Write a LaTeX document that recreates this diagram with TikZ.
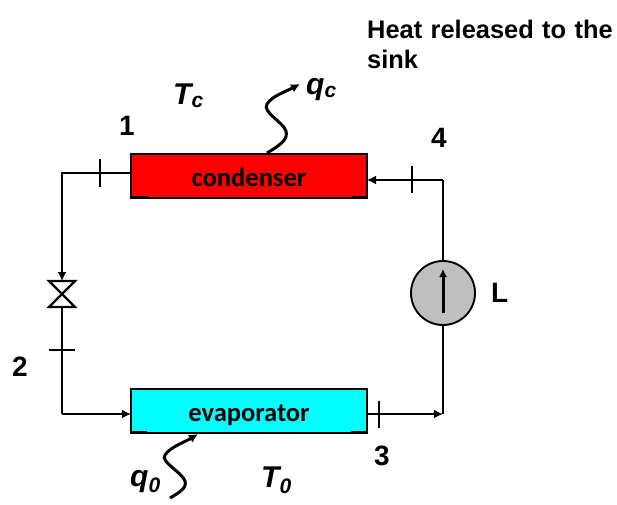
\documentclass[tikz,border=0pt]{standalone}
\usepackage{fontspec}
\setmainfont{Liberation Sans}
\newfontfamily\carl{Carlito}
\usetikzlibrary{arrows.meta}
\definecolor{evapcyan}{RGB}{0,255,255}
\tikzset{
  pipe/.style={draw=black,line width=2.2pt},
  flow/.style={pipe,-{Latex[length=9pt,width=9pt]}},
  tick/.style={draw=black,line width=1.9pt},
  wave/.style={draw=black,line width=3pt,-{Latex[length=9pt,width=9pt]}},
  hx/.style={draw=black,line width=2.1pt,minimum width=236pt,minimum height=44pt,inner sep=0pt,outer sep=0pt,font=\carl\bfseries\fontsize{26.5}{28}\selectfont},
  lab/.style={inner sep=0pt,font=\bfseries\fontsize{28}{30}\selectfont},
  ttl/.style={inner sep=0pt,font=\bfseries\fontsize{25.4}{29}\selectfont},
  ilab/.style={inner sep=0pt,font=\bfseries\itshape\fontsize{30}{32}\selectfont}
}
\begin{document}
\begin{tikzpicture}[x=1pt,y=-1pt]
\useasboundingbox (0,0) rectangle (617,504);
\node[hx,fill=red] (cond) at (249,176) {\smash{\raisebox{-10.5pt}{condenser}}};
\node[hx,fill=evapcyan] (evap) at (249,411) {\smash{\raisebox{-10.5pt}{evaporator}}};
\draw[line width=2.1pt] (131,197) -- (147,197) (351,197) -- (367,197);
\draw[line width=2.1pt] (131,432) -- (147,432) (351,432) -- (367,432);
\node[circle,draw=black,fill=black!25,line width=1.9pt,minimum size=64pt,inner sep=0pt,outer sep=0pt] (pump) at (443,293) {};
\coordinate (tl) at (62,173);
\coordinate (vt) at (62,281);
\coordinate (vb) at (62,307);
\coordinate (bl) at (62,414);
\coordinate (br) at (443,414);
\coordinate (tr) at (443,180);
% valve
\draw[line width=2.2pt,line join=miter] (49,281) -- (75,281) -- (49,307) -- (75,307) -- cycle;
% connectors
\draw[pipe] (cond.west |- tl) -- (tl) -- (62,262);
\draw[flow] (62,262) -- (vt);
\draw[pipe] (vb) -- (bl);
\draw[flow] (bl) -- (bl -| evap.west);
\draw[flow] (evap.east |- br) -- (br);
\draw[pipe] (br) -- (pump.south);
\draw[pipe] (pump.north) -- (tr);
\draw[flow] (tr) -- (tr -| cond.east);
\draw[line width=3pt,-{Latex[length=8pt,width=8pt]}] (443,313) -- (443,269);
% ticks
\draw[tick] (100,159) -- (100,187);
\draw[tick] (49,350) -- (75,350);
\draw[tick] (412,166) -- (412,193);
\draw[tick] (379,401) -- (379,428);
% heat waves
\coordinate (qct) at (300,84);
\coordinate (q0b) at (170,498);
\draw[wave] (267,153) .. controls (282,144) and (288,139) .. (286,131) .. controls (283,122) and (262,112) .. (267,104) .. controls (272,96) and (285,92) .. (qct);
\draw[wave] (q0b) .. controls (180,492) and (187,488) .. (185,481) .. controls (182,472) and (160,462) .. (165,455) .. controls (170,447) and (185,442) .. (198,434);
% labels
\node[ttl,anchor=north west,align=left,text width=250pt] (title) at (367,20) {Heat released to the\\[1pt]sink};
\node[ilab,anchor=base west] (tc) at (173,104) {T\textsubscript{c}};
\node[ilab,anchor=base west] (qc) at (306,94) {q\textsubscript{c}};
\node[ilab,anchor=base west] (t0) at (261,487) {T\textsubscript{0}};
\node[ilab,anchor=base west] (q0) at (130,486) {q\textsubscript{0}};
\node[lab,anchor=base west] (n1) at (119,135) {1};
\node[lab,anchor=base west] (n4) at (431,147) {4};
\node[lab,anchor=base west] (n2) at (12,376) {2};
\node[lab,anchor=base west] (n3) at (374,465) {3};
\node[lab,anchor=base west] (nL) at (491,302) {L};
\end{tikzpicture}
\end{document}
